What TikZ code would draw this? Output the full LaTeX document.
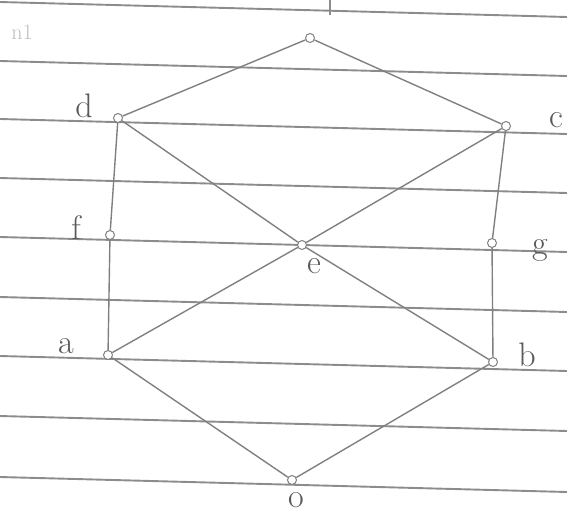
\documentclass[tikz,border=0pt]{standalone}
\begin{document}
\begin{tikzpicture}[x=1pt,y=-1pt,
  vtx/.style={circle,draw=black!50,fill=white,line width=1pt,inner sep=0pt,minimum size=9pt},
  edge/.style={draw=black!50,line width=1.4pt},
  rule/.style={draw=black!45,line width=1.9pt},
  lbl/.style={text=black!65,font=\fontsize{34}{34}\selectfont}]
\useasboundingbox (0,0) rectangle (567,517);
% ruled paper
\foreach \y in {2,61,119,178,237,297,356,416,477}
  \draw[rule] (0,\y) -- (567,\y+15);
\draw[rule] (330,0) -- (330,15);
\node[text=black!25,font=\fontsize{22}{22}\selectfont] (n1) at (22,32) {n1};
% vertices
\node[vtx] (top) at (310,38) {};
\node[vtx] (d) at (118,118) {};
\node[vtx] (c) at (506,126) {};
\node[vtx] (f) at (110,235) {};
\node[vtx] (e) at (302,245) {};
\node[vtx] (g) at (492,243) {};
\node[vtx] (a) at (108,355) {};
\node[vtx] (b) at (493,362) {};
\node[vtx] (o) at (292,480) {};
% edges
\path[edge] (top) -- (d);
\path[edge] (top) -- (c);
\path[edge] (d) -- (f);
\path[edge] (f) -- (a);
\path[edge] (c) -- (g);
\path[edge] (g) -- (b);
\path[edge] (d) -- (e);
\path[edge] (e) -- (b);
\path[edge] (c) -- (e);
\path[edge] (e) -- (a);
\path[edge] (a) -- (o);
\path[edge] (b) -- (o);
% labels
\node[lbl] (ld) at (84,106) {d};
\node[lbl] (lc) at (556,120) {c};
\node[lbl] (lf) at (76,228) {f};
\node[lbl] (le) at (314,266) {e};
\node[lbl] (lg) at (540,250) {g};
\node[lbl] (la) at (66,346) {a};
\node[lbl] (lb) at (527,355) {b};
\node[lbl] (lo) at (296,500) {o};
\end{tikzpicture}
\end{document}
